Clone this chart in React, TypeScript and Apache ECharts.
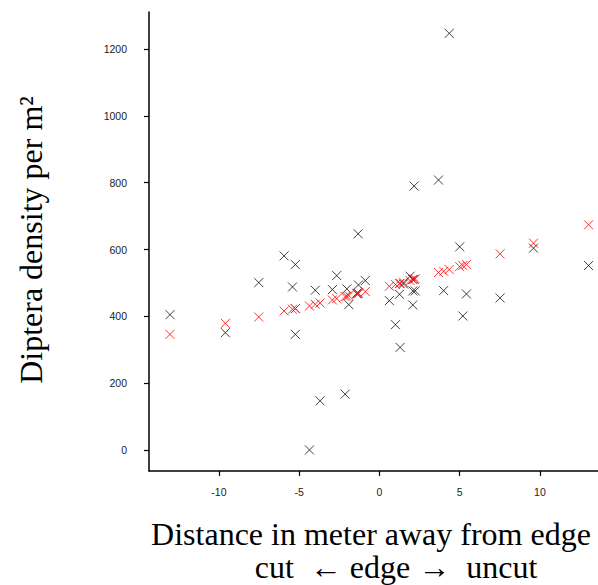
import React, { useEffect, useRef } from "react";
import * as echarts from "echarts";

// Distance from edge (m), observed density (black) and fitted density (red)
const distance = [
  -13.05, -9.6, -7.52, -5.94, -5.42, -5.24, -5.24, -4.36, -4.0, -3.7,
  -2.93, -2.66, -2.14, -2.03, -1.91, -1.41, -1.33, -1.31, -0.88, 0.62,
  1.0, 1.25, 1.29, 1.5, 1.91, 2.08, 2.08, 2.16, 2.23, 3.68,
  4.0, 4.35, 5.0, 5.2, 5.42, 7.52, 9.6, 13.03,
];
const observed = [
  405, 351, 501, 581, 488, 555, 346, 0, 478, 147,
  480, 522, 167, 482, 435, 469, 647, 494, 507, 447,
  375, 466, 307, 497, 520, 476, 434, 790, 476, 808,
  477, 1247, 608, 401, 467, 455, 604, 552,
];
const fitted = [
  346, 379, 398, 416, 421, 423, 423, 431, 436, 440,
  449, 453, 459, 460, 462, 467, 468, 469, 474, 490,
  495, 498, 499, 502, 507, 510, 510, 511, 512, 531,
  535, 540, 549, 552, 555, 587, 619, 674,
];
const xTicks = [-10, -5, 0, 5, 10];
const yTicks = [0, 200, 400, 600, 800, 1000, 1200];

const crossPath = "path://M0,0L10,10M0,10L10,0";

export default function App() {
  const ref = useRef<HTMLDivElement>(null);
  useEffect(() => {
    if (!ref.current) return;
    const chart = echarts.init(ref.current, null, { renderer: "svg" });
    const obsData = distance.map((d, i) => [d, observed[i]]);
    const fitData = distance.map((d, i) => [d, fitted[i]]);
    const labelFont = {
      fontFamily: "Liberation Sans, Arial, sans-serif",
      fontSize: 10.5,
      color: "#222",
      formatter: (v: number) => String(v),
    };
    const serif = "Liberation Serif, Times New Roman, serif";
    chart.setOption({
      animation: false,
      backgroundColor: "#fff",
      grid: { left: 149, right: 0, top: 12, bottom: 114 },
      xAxis: {
        type: "value",
        min: -14.36,
        max: 13.62,
        splitLine: { show: false },
        axisLine: { show: true, onZero: false, lineStyle: { color: "#000", width: 1.5 } },
        axisTick: { show: true, customValues: xTicks, length: 5, lineStyle: { color: "#000", width: 1.2 } },
        axisLabel: { ...labelFont, customValues: xTicks, margin: 15 },
      },
      yAxis: {
        type: "value",
        min: -63,
        max: 1311,
        splitLine: { show: false },
        axisLine: { show: true, onZero: false, lineStyle: { color: "#000", width: 1.5 } },
        axisTick: { show: true, customValues: yTicks, length: 5, lineStyle: { color: "#000", width: 1.2 } },
        axisLabel: { ...labelFont, customValues: yTicks, margin: 22 },
      },
      series: [
        {
          type: "scatter",
          name: "observed",
          data: obsData,
          symbol: crossPath,
          symbolSize: 9,
          itemStyle: { color: "#111", borderColor: "#111", borderWidth: 1 },
        },
        {
          type: "scatter",
          name: "fitted",
          data: fitData,
          symbol: crossPath,
          symbolSize: 9,
          itemStyle: { color: "#ff0000", borderColor: "#ff0000", borderWidth: 1 },
        },
      ],
      graphic: [
        {
          type: "text",
          x: 31,
          y: 240,
          rotation: Math.PI / 2,
          style: {
            text: "Diptera density per m²",
            fontFamily: serif,
            fontSize: 32,
            fill: "#000",
            align: "center",
            verticalAlign: "middle",
          },
        },
        {
          type: "text",
          x: 371,
          y: 534,
          style: {
            text: "Distance in meter away from edge",
            fontFamily: serif,
            fontSize: 32,
            fill: "#000",
            align: "center",
            verticalAlign: "middle",
          },
        },
        {
          type: "text",
          x: 396,
          y: 567,
          style: {
            text: "cut  ← edge →  uncut",
            fontFamily: serif,
            fontSize: 32,
            fill: "#000",
            align: "center",
            verticalAlign: "middle",
          },
        },
      ],
    });
    return () => chart.dispose();
  }, []);
  return (
    <div
      ref={ref}
      style={{ position: "fixed", left: 0, top: 0, width: 598, height: 585 }}
    />
  );
}
